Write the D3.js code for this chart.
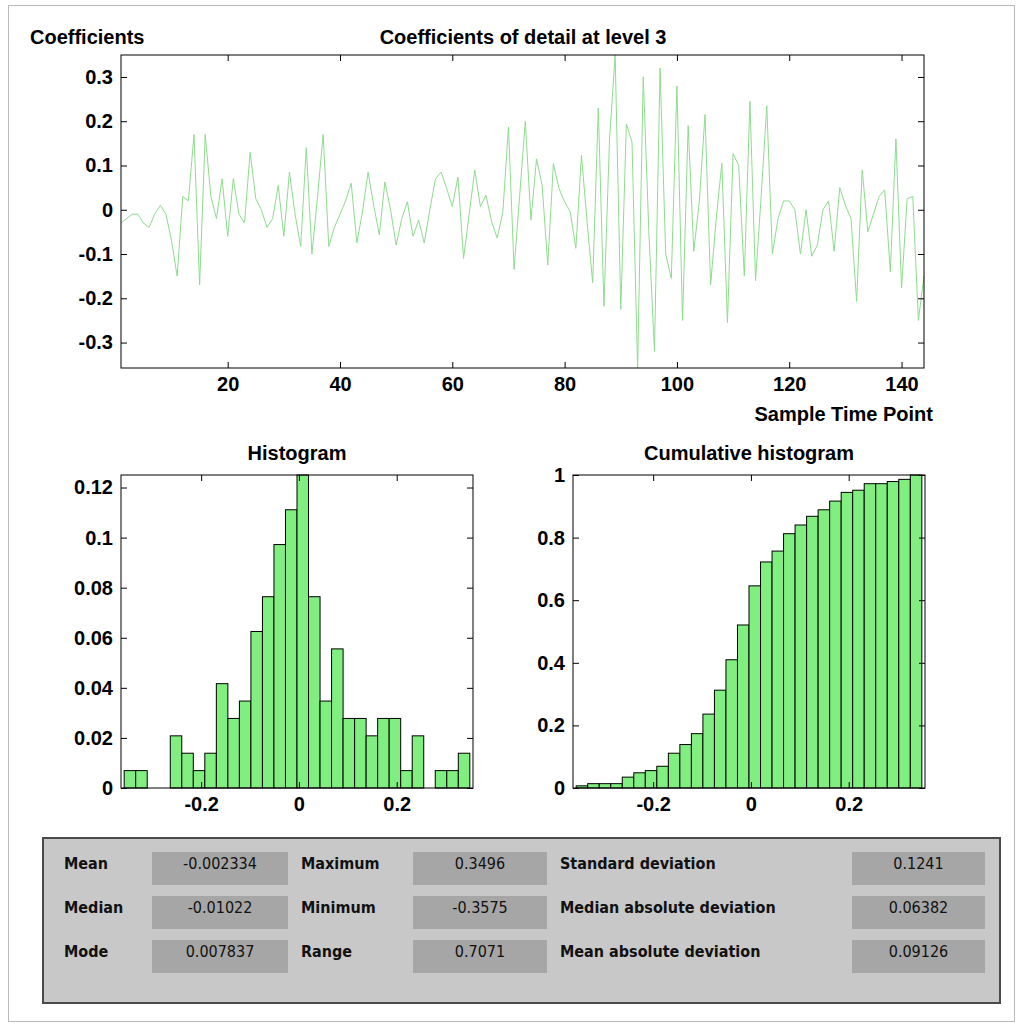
<!DOCTYPE html>
<html lang="en">
  <head>
    <meta charset="UTF-8">
    <title>Coefficients of detail at level 3</title>
    <style>
      body {
        margin: 0;
        background: #fff;
      }

      svg {
        display: block;
        font-family: 'Liberation Sans', Arial, Helvetica, sans-serif;
      }

      .tick text {
        font-size: 20px;
        font-weight: bold;
        fill: #000;
      }

      .tick line {
        stroke: #000;
      }

      .label {
        font-size: 20px;
        font-weight: bold;
      }

      .stats text {
        font-family: 'DejaVu Sans Condensed', 'DejaVu Sans', sans-serif;
        font-size: 16px;
      }
    </style>
  </head>
  <body>
    <div id="chart"></div>

    <script src="https://d3js.org/d3.v7.min.js"></script>
    <script>
      // detail coefficients at level 3, one per sample time point (1..144)
      const coefficients = [
        -0.03, -0.02, -0.01, -0.01, -0.03, -0.04, -0.01, 0.01, -0.01, -0.07,
        -0.15, 0.03, 0.02, 0.17, -0.17, 0.17, 0.03, -0.02, 0.07, -0.06,
        0.07, -0.01, -0.03, 0.13, 0.025, 0.0, -0.04, -0.02, 0.055, -0.06,
        0.085, -0.01, -0.083, 0.14, -0.1, 0.03, 0.17, -0.083, -0.04, -0.01,
        0.02, 0.06, -0.075, -0.005, 0.085, 0.01, -0.057, 0.063, 0.0, -0.08,
        -0.02, 0.018, -0.06, -0.023, -0.075, 0.0, 0.07, 0.085, 0.048, 0.007,
        0.074, -0.11, -0.01, 0.09, 0.007, 0.033, -0.027, -0.064, -0.005, 0.187,
        -0.135, 0.033, 0.2, -0.023, 0.115, 0.055, -0.125, 0.104, 0.048, 0.018,
        -0.005, -0.087, 0.123, -0.027, -0.165, 0.23, -0.218, 0.16, 0.3496, -0.225,
        0.194, 0.153, -0.3575, 0.3, -0.05, -0.32, 0.32, -0.1, -0.155, 0.28,
        -0.25, 0.19, -0.094, 0.02, 0.215, -0.17, -0.02, 0.105, -0.255, 0.127,
        0.1, -0.15, 0.245, -0.16, 0.03, 0.235, -0.1, -0.02, 0.02, 0.02,
        0.0, -0.1, 0.0, -0.105, -0.08, 0.0, 0.02, -0.094, 0.05, 0.01,
        -0.02, -0.207, 0.09, -0.05, -0.01, 0.03, 0.045, -0.14, 0.16, -0.177,
        0.025, 0.03, -0.25, -0.15
      ];
      const sampleTicks = [20, 40, 60, 80, 100, 120, 140];
      const coefTicks = [-0.3, -0.2, -0.1, 0, 0.1, 0.2, 0.3];

      // 30 equal bins from the minimum to the maximum, counts out of 144 samples
      const binCounts = [
        1, 1, 0, 0, 3, 2, 1, 2, 6, 4,
        5, 9, 11, 14, 16, 18, 11, 5, 8, 4,
        4, 3, 4, 4, 1, 3, 0, 1, 1, 2
      ];
      const cumulativeCounts = [
        1, 2, 2, 2, 5, 7, 8, 10, 16, 20,
        25, 34, 45, 59, 75, 93, 104, 109, 117, 121,
        125, 128, 132, 136, 137, 140, 140, 141, 142, 144
      ];
      const sampleCount = 144;
      const binLow = -0.3575;
      const binHigh = 0.3496;
      const histTicksX = [-0.2, 0, 0.2];
      const histTicksY = [0, 0.02, 0.04, 0.06, 0.08, 0.1, 0.12];
      const cumTicksY = [0, 0.2, 0.4, 0.6, 0.8, 1];

      // statistics panel, column by column
      const statNames = [
        'Mean', 'Median', 'Mode',
        'Maximum', 'Minimum', 'Range',
        'Standard deviation', 'Median absolute deviation', 'Mean absolute deviation'
      ];
      const statValues = [
        '-0.002334', '-0.01022', '0.007837',
        '0.3496', '-0.3575', '0.7071',
        '0.1241', '0.06382', '0.09126'
      ];

      const width = 1022;
      const height = 1026;
      const tickLen = 6;
      const lineColor = '#8edc8e';
      const barColor = '#80ef80';
      const fmt = d => d === 0 ? '0' : String(d);

      const svg = d3.select('#chart').append('svg')
        .attr('width', width)
        .attr('height', height);

      // figure frame
      svg.append('rect')
        .attr('x', 8.5).attr('y', 5.5)
        .attr('width', 1006).attr('height', 1016)
        .attr('fill', 'none')
        .attr('stroke', '#b8b8b8');

      // draws a matlab-like boxed axes with inward ticks on all four sides
      const drawFrame = (g, x, y, xTicks, yTicks) => {
        const [x0, x1] = x.range();
        const [y0, y1] = y.range();

        g.append('g')
          .attr('transform', `translate(0,${y0})`)
          .call(d3.axisBottom(x).tickValues(xTicks).tickFormat(fmt)
            .tickSizeInner(-tickLen).tickSizeOuter(0).tickPadding(9))
          .call(a => a.select('.domain').remove());
        g.append('g')
          .attr('transform', `translate(0,${y1})`)
          .call(d3.axisTop(x).tickValues(xTicks).tickFormat('')
            .tickSizeInner(-tickLen).tickSizeOuter(0))
          .call(a => a.select('.domain').remove());
        g.append('g')
          .attr('transform', `translate(${x0},0)`)
          .call(d3.axisLeft(y).tickValues(yTicks).tickFormat(fmt)
            .tickSizeInner(-tickLen).tickSizeOuter(0).tickPadding(8))
          .call(a => a.select('.domain').remove());
        g.append('g')
          .attr('transform', `translate(${x1},0)`)
          .call(d3.axisRight(y).tickValues(yTicks).tickFormat('')
            .tickSizeInner(-tickLen).tickSizeOuter(0))
          .call(a => a.select('.domain').remove());

        g.selectAll('.tick text').attr('font-family', null).attr('font-size', null);

        g.append('rect')
          .attr('x', x0).attr('y', y1)
          .attr('width', x1 - x0).attr('height', y0 - y1)
          .attr('fill', 'none')
          .attr('stroke', '#000');
      };

      // ---- coefficients plot ----
      const xSig = d3.scaleLinear().domain([1, coefficients.length]).range([121, 924]);
      const ySig = d3.scaleLinear().domain([binLow, binHigh]).range([368, 55]);

      const sigPlot = svg.append('g');

      sigPlot.append('path')
        .datum(coefficients)
        .attr('fill', 'none')
        .attr('stroke', lineColor)
        .attr('stroke-width', 1)
        .attr('d', d3.line().x((d, i) => xSig(i + 1)).y(d => ySig(d)));

      drawFrame(sigPlot, xSig, ySig, sampleTicks, coefTicks);

      svg.append('text').attr('class', 'label')
        .attr('x', 523).attr('y', 44)
        .attr('text-anchor', 'middle')
        .text('Coefficients of detail at level 3');
      svg.append('text').attr('class', 'label')
        .attr('x', 30).attr('y', 44)
        .text('Coefficients');
      svg.append('text').attr('class', 'label')
        .attr('x', 933).attr('y', 421)
        .attr('text-anchor', 'end')
        .text('Sample Time Point');

      // ---- histograms ----
      const binWidth = (binHigh - binLow) / binCounts.length;
      const pad = 0.0065;

      const drawHist = (left, counts, yMax, yTicks, title) => {
        const x = d3.scaleLinear().domain([binLow - pad, binHigh + pad]).range([left, left + 352]);
        const y = d3.scaleLinear().domain([0, yMax]).range([788, 475]);
        const g = svg.append('g');

        const bins = counts
          .map((c, i) => ({ x0: binLow + i * binWidth, x1: binLow + (i + 1) * binWidth, c }))
          .filter(b => b.c > 0);

        g.selectAll('rect.bar')
          .data(bins)
          .join('rect')
          .attr('class', 'bar')
          .attr('x', b => x(b.x0))
          .attr('width', b => x(b.x1) - x(b.x0))
          .attr('y', b => y(b.c / sampleCount))
          .attr('height', b => y(0) - y(b.c / sampleCount))
          .attr('fill', barColor)
          .attr('stroke', '#000')
          .attr('stroke-width', 1);

        drawFrame(g, x, y, histTicksX, yTicks);

        svg.append('text').attr('class', 'label')
          .attr('x', left + 176).attr('y', 460)
          .attr('text-anchor', 'middle')
          .text(title);
      };

      drawHist(121, binCounts, 0.125, histTicksY, 'Histogram');
      drawHist(573, cumulativeCounts, 1, cumTicksY, 'Cumulative histogram');

      // ---- statistics panel ----
      const panel = svg.append('g').attr('class', 'stats');

      panel.append('rect')
        .attr('x', 43).attr('y', 838)
        .attr('width', 957).attr('height', 165)
        .attr('fill', '#c8c8c8')
        .attr('stroke', '#4a4a4a')
        .attr('stroke-width', 2);

      const labelX = [64, 301, 560];
      const boxX = [152, 413, 852];
      const boxW = [136, 134, 133];
      const rowY = [852, 896, 940];

      statNames.forEach((name, k) => {
        const col = Math.floor(k / 3);
        const row = k % 3;

        panel.append('text')
          .attr('x', labelX[col]).attr('y', rowY[row] + 17)
          .attr('font-weight', 'bold')
          .attr('fill', '#111')
          .text(name);

        panel.append('rect')
          .attr('x', boxX[col]).attr('y', rowY[row])
          .attr('width', boxW[col]).attr('height', 33)
          .attr('fill', '#a6a6a6');

        panel.append('text')
          .attr('x', boxX[col] + boxW[col] / 2).attr('y', rowY[row] + 17)
          .attr('text-anchor', 'middle')
          .attr('fill', '#111')
          .text(statValues[k]);
      });
    </script>
  </body>
</html>
